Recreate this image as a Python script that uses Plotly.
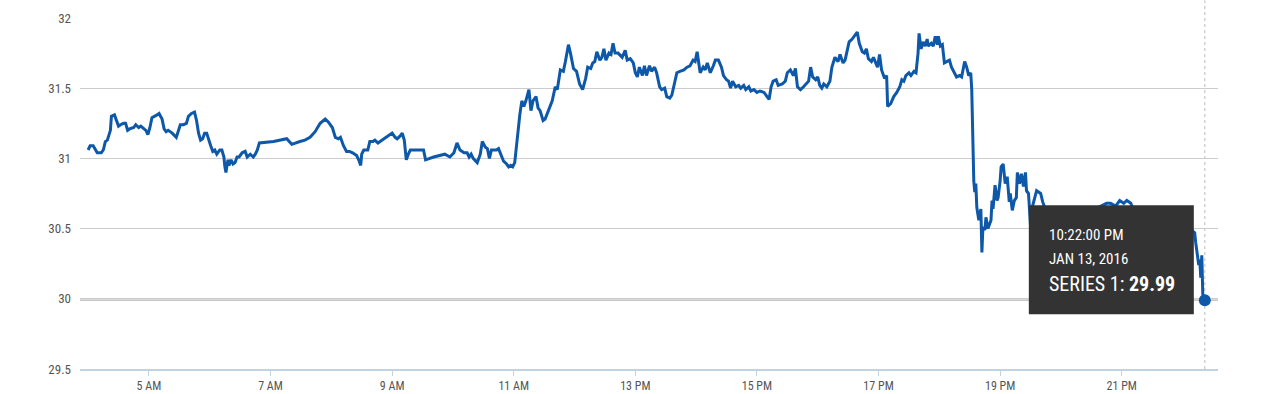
import pandas as pd
import plotly.graph_objects as go

# ---- data (minutes after midnight, Jan 13 2016) ----
minutes = [240,242,245,247,249,253,255,257,259,262,263,266,268,270,272,275,277,279,281,285,
           287,290,292,295,297,299,301,303,306,308,310,313,315,317,319,323,327,329,331,334,
           337,339,342,345,347,349,351,353,355,357,359,361,363,365,367,370,372,374,375,376,
           378,379,381,383,385,387,389,392,395,397,400,403,405,407,409,423,436,441,449,454,
           459,464,469,474,477,481,484,487,489,492,495,498,501,505,507,509,510,512,516,518,
           521,523,526,528,533,537,540,543,545,548,550,552,554,556,558,564,571,573,581,592,
           597,601,604,607,609,611,614,616,618,620,624,627,629,632,634,636,638,643,645,647,
           650,653,655,657,659,661,663,666,668,670,672,675,677,679,682,684,686,689,691,694,
           698,701,703,706,709,711,714,716,719,722,725,728,731,733,736,738,740,742,745,747,
           749,751,754,756,758,760,763,767,770,772,775,778,780,782,784,787,789,791,794,796,
           799,801,804,806,809,811,814,816,818,821,824,828,831,834,837,839,841,844,847,849,
           851,854,857,859,862,865,867,870,872,874,876,879,882,884,887,889,892,894,897,900,
           903,907,910,912,914,916,919,921,925,928,930,933,936,938,940,943,946,949,951,953,
           955,958,960,962,964,966,969,972,974,977,980,982,985,987,991,994,997,999,1001,1004,
           1006,1008,1010,1013,1015,1017,1019,1021,1023,1026,1028,1029,1032,1035,1038,1041,1043,1045,1047,1050,
           1052,1055,1057,1059,1060,1062,1064,1066,1068,1069,1072,1074,1076,1078,1079,1081,1083,1085,1088,1090,
           1092,1095,1097,1100,1102,1105,1107,1109,1111,1112,1113,1114,1115,1116,1117,1119,1121,1122,1123,1125,
           1126,1128,1131,1132,1133,1135,1137,1138,1140,1141,1143,1145,1147,1149,1150,1152,1154,1156,1157,1159,
           1161,1163,1165,1166,1168,1170,1172,1176,1180,1182,1187,1194,1201,1209,1217,1225,1231,1239,1245,1249,
           1254,1258,1262,1265,1269,1270,1272,1280,1288,1296,1304,1312,1320,1327,1332,1333,1335,1336,1337,1338,
           1339,1340,1342]

values = [31.06,31.09,31.09,31.06,31.04,31.04,31.06,31.12,31.13,31.20,31.30,31.31,31.27,31.23,31.24,31.25,31.25,31.20,31.21,31.22,
          31.24,31.22,31.23,31.21,31.20,31.17,31.22,31.29,31.30,31.31,31.32,31.28,31.21,31.19,31.20,31.18,31.15,31.19,31.24,31.24,
          31.25,31.30,31.32,31.33,31.27,31.18,31.13,31.14,31.18,31.18,31.13,31.09,31.05,31.06,31.03,31.06,31.06,31.01,30.94,30.90,
          30.99,30.95,30.99,30.96,30.97,31.01,31.01,31.04,31.05,31.01,31.03,31.01,31.03,31.06,31.11,31.12,31.14,31.10,31.12,31.13,
          31.15,31.19,31.25,31.28,31.26,31.22,31.15,31.14,31.15,31.09,31.05,31.05,31.04,31.02,30.99,30.95,31.03,31.06,31.06,31.12,
          31.12,31.13,31.11,31.12,31.14,31.16,31.18,31.15,31.14,31.16,31.18,31.13,30.99,31.03,31.06,31.06,31.06,30.99,31.01,31.03,
          31.01,31.04,31.11,31.06,31.05,31.04,31.04,31.01,31.03,31.00,30.97,31.03,31.12,31.08,31.07,31.00,31.06,31.06,31.07,31.03,
          30.98,30.96,30.94,30.95,30.94,30.97,31.12,31.31,31.41,31.37,31.41,31.49,31.34,31.41,31.44,31.36,31.34,31.27,31.28,31.34,
          31.41,31.51,31.49,31.63,31.62,31.69,31.81,31.75,31.64,31.62,31.53,31.49,31.57,31.65,31.64,31.68,31.69,31.76,31.70,31.72,
          31.78,31.70,31.75,31.74,31.82,31.75,31.75,31.72,31.77,31.70,31.71,31.68,31.61,31.58,31.65,31.59,31.66,31.59,31.66,31.62,
          31.65,31.61,31.51,31.49,31.50,31.44,31.43,31.45,31.51,31.61,31.62,31.63,31.65,31.66,31.70,31.69,31.76,31.61,31.65,31.63,
          31.68,31.61,31.66,31.70,31.70,31.65,31.59,31.56,31.55,31.50,31.55,31.51,31.52,31.50,31.52,31.49,31.51,31.48,31.49,31.47,
          31.48,31.47,31.44,31.42,31.51,31.55,31.56,31.52,31.53,31.55,31.61,31.63,31.59,31.64,31.51,31.49,31.51,31.53,31.55,31.65,
          31.58,31.56,31.58,31.52,31.50,31.53,31.51,31.55,31.65,31.72,31.69,31.74,31.68,31.70,31.83,31.85,31.88,31.90,31.82,31.76,
          31.75,31.78,31.71,31.69,31.72,31.69,31.65,31.74,31.63,31.57,31.59,31.37,31.39,31.44,31.47,31.51,31.56,31.55,31.59,31.61,
          31.59,31.62,31.61,31.75,31.89,31.78,31.83,31.80,31.85,31.80,31.82,31.80,31.87,31.81,31.87,31.80,31.81,31.68,31.69,31.70,
          31.65,31.61,31.58,31.59,31.58,31.69,31.65,31.59,31.61,31.49,31.13,30.84,30.76,30.82,30.65,30.56,30.64,30.33,30.51,30.49,
          30.58,30.50,30.56,30.70,30.64,30.81,30.70,30.72,30.84,30.94,30.96,30.82,30.87,30.69,30.75,30.63,30.70,30.72,30.90,30.82,
          30.89,30.80,30.90,30.77,30.75,30.52,30.66,30.77,30.75,30.69,30.59,30.52,30.61,30.54,30.60,30.57,30.63,30.66,30.68,30.68,
          30.66,30.70,30.68,30.70,30.68,30.66,30.63,30.57,30.61,30.54,30.59,30.52,30.56,30.50,30.47,30.40,30.30,30.24,30.28,30.15,
          30.31,30.03,29.99]

tick_hours = [5, 7, 9, 11, 13, 15, 17, 19, 21]
tick_labels = ["5 AM", "7 AM", "9 AM", "11 AM", "13 PM", "15 PM", "17 PM", "19 PM", "21 PM"]
y_ticks = [29.5, 30, 30.5, 31, 31.5, 32]
y_tick_labels = ["29.5", "30", "30.5", "31", "31.5", "32"]

series_name = "SERIES 1"
tooltip_time = "10:22:00 PM"
tooltip_date = "JAN 13, 2016"

day = pd.Timestamp("2016-01-13")
times = [day + pd.Timedelta(minutes=m) for m in minutes]
tick_vals = [day + pd.Timedelta(hours=h) for h in tick_hours]

FONT = "Liberation Sans Narrow, Roboto Condensed, Roboto, sans-serif"
BLUE = "#0d58a8"

fig = go.Figure()
fig.add_trace(go.Scatter(x=times, y=values, mode="lines",
                         line=dict(color=BLUE, width=3), name=series_name,
                         hoverinfo="skip"))
# highlighted last point
fig.add_trace(go.Scatter(x=[times[-1]], y=[values[-1]], mode="markers",
                         marker=dict(color=BLUE, size=12), hoverinfo="skip"))

last_t, last_v = times[-1], values[-1]

shapes = [
    # crosshair vertical (dotted)
    dict(type="line", xref="x", yref="paper", x0=last_t, x1=last_t, y0=0, y1=1.05,
         line=dict(color="#bbbbbb", width=1, dash="dot"), layer="below"),
    # crosshair horizontal
    dict(type="line", xref="paper", yref="y", x0=0, x1=1, y0=last_v, y1=last_v,
         line=dict(color="#b5b5b5", width=1.3), layer="below"),
    # tooltip box
    dict(type="rect", xref="x", yref="y", xsizemode="pixel", ysizemode="pixel",
         xanchor=last_t, yanchor=last_v, x0=-176, x1=-11, y0=-14, y1=95,
         fillcolor="#333333", line=dict(width=0), layer="above"),
]

annotations = [
    dict(xref="x", yref="y", x=last_t, y=last_v, xshift=-158, yshift=65,
         text=tooltip_time, showarrow=False, xanchor="left", yanchor="middle",
         font=dict(family=FONT, size=15, color="#ffffff")),
    dict(xref="x", yref="y", x=last_t, y=last_v, xshift=-158, yshift=41,
         text=tooltip_date, showarrow=False, xanchor="left", yanchor="middle",
         font=dict(family=FONT, size=15, color="#ffffff")),
    dict(xref="x", yref="y", x=last_t, y=last_v, xshift=-158, yshift=16,
         text=f"{series_name}: <b>{last_v:.2f}</b>", showarrow=False, xanchor="left", yanchor="middle",
         font=dict(family=FONT, size=20, color="#ffffff")),
]

fig.update_layout(
    width=1268, height=394,
    margin=dict(l=80, r=50, t=18, b=25, autoexpand=False),
    paper_bgcolor="white", plot_bgcolor="white",
    showlegend=False,
    font=dict(family=FONT, color="#555555"),
    shapes=shapes, annotations=annotations,
    xaxis=dict(type="date", automargin=False,
               range=[day + pd.Timedelta(minutes=232), day + pd.Timedelta(minutes=1355)],
               tickvals=tick_vals, ticktext=tick_labels,
               showgrid=False, zeroline=False,
               showline=True, linecolor="#c3d2e0", linewidth=1.5,
               ticks="outside", ticklen=5, tickcolor="#c3d2e0", tickwidth=1,
               tickfont=dict(family=FONT, size=12, color="#555555")),
    yaxis=dict(range=[29.5, 32], tickvals=y_ticks, ticktext=y_tick_labels, automargin=False,
               showgrid=True, gridcolor="#cccccc", gridwidth=1,
               zeroline=False, showline=False, ticks="",
               ticklabelstandoff=8,
               tickfont=dict(family=FONT, size=13, color="#555555")),
)

fig.write_html("out.html", config={"displayModeBar": False},
               post_script="document.body.style.margin='0';")
